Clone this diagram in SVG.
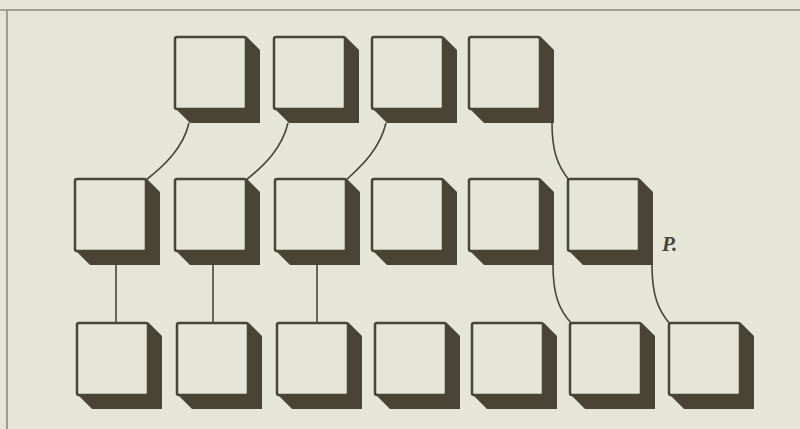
<svg xmlns="http://www.w3.org/2000/svg" xmlns:xlink="http://www.w3.org/1999/xlink" width="800" height="429" viewBox="0 0 800 429">
<style>
.ink{fill:#4a4434}
.face{fill:#e5e6d7;stroke:#4a4434;stroke-width:2.5}
.conn{fill:none;stroke:#4a4434;stroke-width:1.6}
.frame{fill:none;stroke:#8d8d7f;stroke-width:1.6}
.lbl{font-family:"Liberation Serif",serif;font-style:italic;font-weight:bold;font-size:21px;fill:#4a4434}
</style>
<defs>
<g id="box">
<path class="ink" d="M69,0 L72,0 L85,13 L85,86 L15,86 L0,71 L0,70 Z"/>
<rect class="face" x="0" y="0" width="71" height="72" rx="2"/>
</g>
</defs>
<rect x="0" y="0" width="800" height="429" fill="#e5e6d7"/>
<path class="frame" d="M0,10 H800 M7,10 V429"/>
<g id="connectors">
<path class="conn" d="M189,123 C183,148 165,165 146,180"/>
<path class="conn" d="M288,123 C282,148 265,165 246,180"/>
<path class="conn" d="M386,123 C380,148 363,165 346,180"/>
<path class="conn" d="M552,123 C552,150 557,165 569,180"/>
<path class="conn" d="M116,265 V323"/>
<path class="conn" d="M213,265 V323"/>
<path class="conn" d="M317,265 V323"/>
<path class="conn" d="M553,265 C553,295 559,310 572,324"/>
<path class="conn" d="M652,265 C652,295 658,310 670,324"/>
</g>
<g id="t1" transform="translate(175,37)"><use xlink:href="#box"/></g>
<g id="t2" transform="translate(274,37)"><use xlink:href="#box"/></g>
<g id="t3" transform="translate(372,37)"><use xlink:href="#box"/></g>
<g id="t4" transform="translate(469,37)"><use xlink:href="#box"/></g>
<g id="m1" transform="translate(75,179)"><use xlink:href="#box"/></g>
<g id="m2" transform="translate(175,179)"><use xlink:href="#box"/></g>
<g id="m3" transform="translate(275,179)"><use xlink:href="#box"/></g>
<g id="m4" transform="translate(372,179)"><use xlink:href="#box"/></g>
<g id="m5" transform="translate(469,179)"><use xlink:href="#box"/></g>
<g id="m6" transform="translate(568,179)"><use xlink:href="#box"/></g>
<g id="b1" transform="translate(77,323)"><use xlink:href="#box"/></g>
<g id="b2" transform="translate(177,323)"><use xlink:href="#box"/></g>
<g id="b3" transform="translate(277,323)"><use xlink:href="#box"/></g>
<g id="b4" transform="translate(375,323)"><use xlink:href="#box"/></g>
<g id="b5" transform="translate(472,323)"><use xlink:href="#box"/></g>
<g id="b6" transform="translate(570,323)"><use xlink:href="#box"/></g>
<g id="b7" transform="translate(669,323)"><use xlink:href="#box"/></g>
<g id="label-p"><text class="lbl" x="662" y="251">P.</text></g>
</svg>
